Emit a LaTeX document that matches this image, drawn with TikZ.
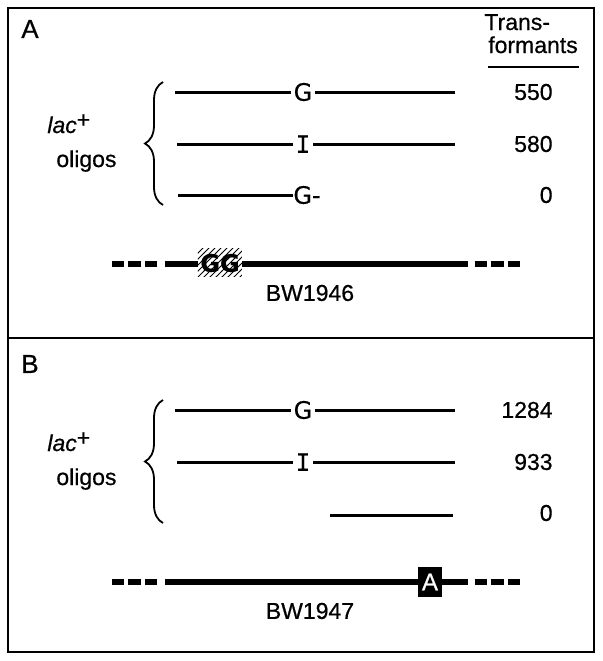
\documentclass[tikz,border=0pt]{standalone}
\usepackage{fontspec}
\setmainfont{Liberation Sans}[FakeBold=0.6]
\newfontfamily\verfont{DejaVu Sans}[FakeBold=0.4]
\newfontfamily\monofont{DejaVu Sans Mono}[FakeBold=0.4]
\usetikzlibrary{decorations.pathreplacing,patterns}
\begin{document}
\begin{tikzpicture}[x=0.5pt,y=-0.5pt,font=\fontsize{11.5}{13}\selectfont,
  oligo/.style={line width=1.5pt},
  chrom/.style={line width=2.6pt},
  dna/.style={chrom,dash pattern=on 6.25pt off 2pt},
  base/.style={font=\verfont\fontsize{12}{14}\selectfont,inner sep=1.2pt},
  count/.style={anchor=east,inner sep=0pt}]
\useasboundingbox (0,0) rectangle (603,661);
\draw[line width=1pt] (8,8) rectangle (594,652);
\draw[line width=1pt] (8,338) -- (594,338);
\node (lblA) at (30,29) {\fontsize{13}{15}\selectfont A};
\node (lblB) at (30,364) {\fontsize{13}{15}\selectfont B};
% column header
\node[anchor=base west,inner sep=0pt] (trans) at (484,30) {Trans-};
\node[anchor=base,inner sep=0pt] (form) at (533,53) {formants};
\draw[line width=1pt] (488,67) -- (579,67);
% both panels
\foreach \p/\dy/\bw/\na/\nb in {A/0/1946/550/580,B/318/1947/1284/933}{
  \node[base] (g1\p) at (303,92+\dy) {G};
  \draw[oligo] (175,92+\dy) -- (g1\p) -- (455,92+\dy);
  \node[base,font=\monofont\fontsize{12}{14}\selectfont] (i2\p) at (303,144+\dy) {I};
  \draw[oligo] (177,144+\dy) -- (i2\p) -- (455,144+\dy);
  \node[count] (n1\p) at (553,92+\dy) {\na};
  \node[count] (n2\p) at (553,144+\dy) {\nb};
  \node[count] (n3\p) at (553,195+\dy) {0};
  \draw[line width=0.9pt,decorate,decoration={brace,amplitude=9pt}] (163,205+\dy) -- (163,82+\dy);
  \node[anchor=base west,inner sep=0pt] (lac\p) at (47,133+\dy) {\textit{lac}\raisebox{0.45ex}{+}};
  \node[anchor=base west,inner sep=0pt] (olig\p) at (56,167+\dy) {oligos};
  \draw[dna] (112,264+\dy) -- (158,264+\dy);
  \draw[chrom] (165,264+\dy) -- (468,264+\dy);
  \draw[dna] (475,264+\dy) -- (521,264+\dy);
  \node (bw\p) at (310,293+\dy) {BW\bw};
}
% panel A: third oligo and the GG site
\node[base,anchor=west,inner sep=0pt] (g3A) at (293,195) {G-};
\draw[oligo] (178,195) -- (g3A);
\fill[white] (198,248) rectangle (242,276);
\fill[pattern=north east lines] (198,248) rectangle (242,276);
\node[font=\verfont\bfseries\fontsize{12}{14}\selectfont,inner sep=0pt] (ggA) at (220,263) {GG};
% panel B: short oligo and the A site
\coordinate (s3B) at (330,515);
\coordinate (e3B) at (453,515);
\draw[oligo] (s3B) -- (e3B);
\node[fill=black,text=white,font=\fontsize{12}{14}\selectfont,minimum width=12pt,minimum height=15pt,inner sep=0pt] (mutB) at (430,582) {A};
\end{tikzpicture}
\end{document}
